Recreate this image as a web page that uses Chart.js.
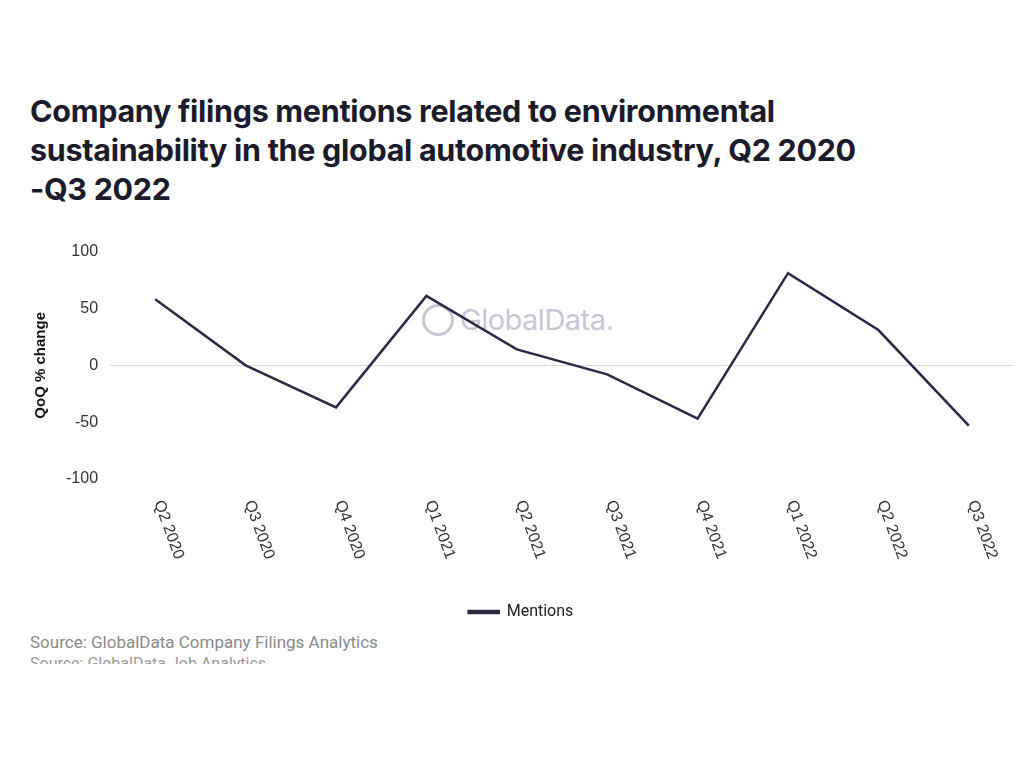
<!DOCTYPE html>
<html>
<head>
<meta charset="utf-8">
<script src="https://cdn.jsdelivr.net/npm/chart.js@4"></script>
<style>
  body { margin: 0; background: #fff; width: 1024px; height: 768px; overflow: hidden; position: relative; font-family: 'Liberation Sans', Arial, sans-serif; }
  #title { position: absolute; left: 30px; top: 91px; width: 880px; font-family: Inter, 'Open Sans', sans-serif; font-weight: 700; font-size: 30.5px; line-height: 39px; color: #1b1b2b; letter-spacing: -0.3px; }
  #title span { white-space: nowrap; }
  #wrap { position: absolute; left: 0; top: 230px; width: 1024px; height: 400px; }
  #mark { position: absolute; left: 422px; top: 302px; font-family: Inter, sans-serif; font-size: 29px; color: #c9c6d3; letter-spacing: -0.5px; pointer-events: none; }
  #mark span { display: inline-block; width: 32px; height: 32px; border: 3px solid #c9c6d3; border-radius: 50%; box-sizing: border-box; vertical-align: -6px; margin-right: 6px; }
  #source { position: absolute; left: 30px; top: 632px; font-family: 'Roboto', sans-serif; font-size: 17px; color: #8a8a8a; }
  #source2 { position: absolute; left: 30px; top: 654px; height: 10px; overflow: hidden; font-family: 'Roboto', sans-serif; font-size: 16px; color: #9a9a9a; }
</style>
</head>
<body>
<div id="title">Company filings mentions related to environmental sustainability in the global automotive industry, Q2 2020 <span>-Q3 2022</span></div>
<div id="mark"><span></span>GlobalData.</div>
<div id="wrap"><canvas id="chart"></canvas></div>
<div id="source">Source: GlobalData Company Filings Analytics</div>
<div id="source2">Source: GlobalData Job Analytics</div>
<script>
// quarters on the x axis
const quarters = ['Q2 2020', 'Q3 2020', 'Q4 2020', 'Q1 2021', 'Q2 2021', 'Q3 2021', 'Q4 2021', 'Q1 2022', 'Q2 2022', 'Q3 2022'];
// QoQ % change in mentions
const mentions = [58, 0, -37, 61, 14, -8, -47, 81, 31, -53];
const yTicks = [100, 50, 0, -50, -100];

const lineColor = '#2b2a45';

// x labels are rotated clockwise and hang from the tick, which Chart.js can't do natively
const slantedLabels = {
  id: 'slantedLabels',
  afterDraw(chart) {
    const x = chart.scales.x;
    const ctx = chart.ctx;
    ctx.save();
    ctx.font = '16px "Liberation Sans", Arial, sans-serif';
    ctx.fillStyle = '#333';
    ctx.textAlign = 'left';
    ctx.textBaseline = 'middle';
    quarters.forEach((q, i) => {
      ctx.save();
      ctx.translate(x.getPixelForTick(i) + 3, x.top + 22);
      ctx.rotate(70 * Math.PI / 180);
      ctx.fillText(q, 0, 0);
      ctx.restore();
    });
    ctx.restore();
  }
};

new Chart(document.getElementById('chart'), {
  type: 'line',
  data: {
    labels: quarters,
    datasets: [{
      label: 'Mentions',
      data: mentions,
      borderColor: lineColor,
      backgroundColor: lineColor,
      borderWidth: 2.5,
      pointRadius: 0,
      tension: 0,
    }],
  },
  options: {
    responsive: true,
    maintainAspectRatio: false,
    animation: false,
    layout: { padding: { top: 7, right: 10, left: 28, bottom: 0 } },
    plugins: {
      legend: {
        position: 'bottom',
        labels: { boxWidth: 30, boxHeight: 2, color: '#222', font: { family: 'Roboto', size: 16 }, padding: 10 },
      },
      tooltip: { enabled: false },
    },
    scales: {
      x: {
        offset: true,
        grid: { display: false },
        border: { display: false },
        ticks: { display: false },
        afterFit: s => { s.height = 115; },
      },
      y: {
        min: -100,
        max: 100,
        afterBuildTicks: s => { s.ticks = yTicks.map(v => ({ value: v })); },
        border: { display: false },
        grid: { drawTicks: false, color: c => (c.tick && c.tick.value === 0 ? '#d9d9de' : 'transparent') },
        ticks: { color: '#333', padding: 12, font: { family: 'Liberation Sans', size: 16 } },
        title: { display: true, text: 'QoQ % change', color: '#111', font: { family: 'Liberation Sans', size: 15, weight: 'bold' } },
      },
    },
  },
  plugins: [slantedLabels],
});
</script>
</body>
</html>
